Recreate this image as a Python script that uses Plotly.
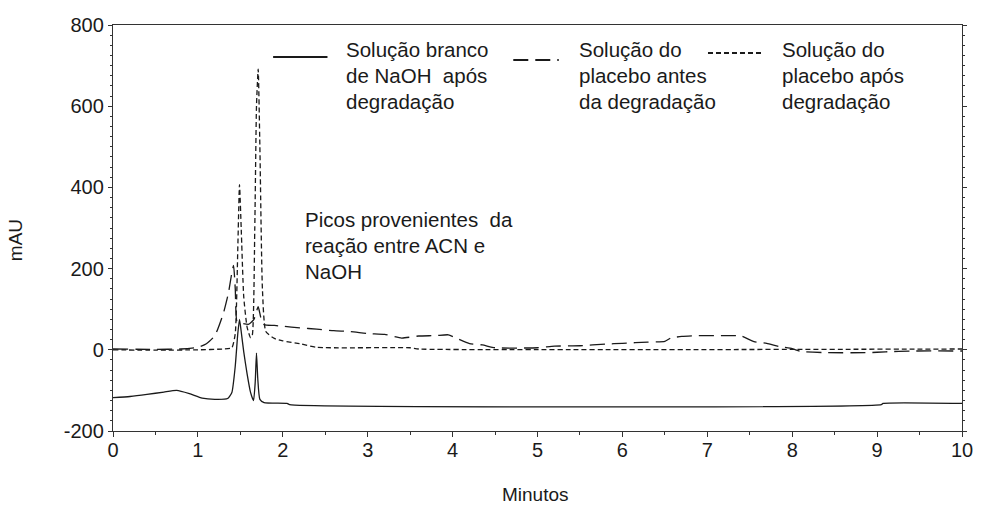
import plotly.graph_objects as go

# Chromatogram traces: retention time (min) and absorbance (mAU)
t_branco = [0, 0.2, 0.4, 0.6, 0.75, 0.9, 1.05, 1.2, 1.35, 1.40, 1.44, 1.47, 1.49, 1.51,
            1.54, 1.58, 1.62, 1.655, 1.675, 1.69, 1.705, 1.73, 1.78, 2.05, 2.08, 9.05, 9.07, 10]
mau_branco = [-118, -115, -110, -104, -100, -108, -119, -122, -120, -105, -40, 40, 75, 45,
              -5, -60, -105, -125, -80, -8, -70, -122, -130, -132, -135, -135, -132, -132]

t_antes = [0, 0.5, 0.8, 1.0, 1.1, 1.2, 1.3, 1.36, 1.40, 1.42, 1.44, 1.46, 1.50, 1.60, 1.66,
           1.71, 1.74, 1.78, 1.9, 2.0, 2.2, 2.4, 2.6, 2.8, 3.0, 3.2, 3.4, 3.6, 3.8, 3.95,
           4.05, 4.2, 4.35, 4.5, 5.0, 5.2, 5.5, 5.8, 6.0, 6.3, 6.5, 6.57, 6.7, 6.9, 7.2,
           7.4, 7.55, 7.7, 7.85, 8.0, 8.1, 8.4, 8.9, 9.1, 9.4, 10]
mau_antes = [2, 1, 2, 6, 15, 35, 90, 140, 190, 208, 150, 70, 66, 63, 75,
             106, 80, 62, 60, 58, 54, 51, 47, 45, 40, 38, 29, 34, 35, 37,
             28, 15, 12, 5, 5, 9, 10, 14, 16, 19, 21, 29, 33, 35, 35,
             34, 20, 16, 8, 3, -4, -7, -7, -5, -3, -3]

t_apos = [0, 0.5, 1.0, 1.3, 1.40, 1.44, 1.47, 1.49, 1.51, 1.54, 1.58, 1.62, 1.64, 1.67,
          1.69, 1.71, 1.73, 1.76, 1.80, 1.9, 2.0, 2.2, 2.4, 3.5, 3.6, 10]
mau_apos = [0, -1, 0, 2, 5, 40, 250, 407, 300, 130, 55, 30, 35, 300,
            600, 691, 500, 150, 45, 28, 22, 15, 6, 5, 2, 2]

legend_labels = [
    ["Solução branco", "de NaOH  após", "degradação"],
    ["Solução do", "placebo antes", "da degradação"],
    ["Solução do", "placebo após", "degradação"],
]
note_lines = ["Picos provenientes  da", "reação entre ACN e", "NaOH"]

y_ticks = [-200, 0, 200, 400, 600, 800]
x_ticks = list(range(0, 11))

FONT = "Liberation Sans Narrow, Arial Narrow, Liberation Sans, Arial, sans-serif"
INK = "#1a1a1a"
AXIS = "#333"

# figure geometry (pixels)
W, H = 985, 506
ML, MR, MT, MB = 113, 13, 25, 75
PW, PH = W - ML - MR, H - MT - MB


def px(x):
    return (x - ML) / PW


def py(y):
    return (H - MB - y) / PH


dashes = ["solid", "15px,7px", "5px,3px"]
series = [(t_branco, mau_branco), (t_antes, mau_antes), (t_apos, mau_apos)]

fig = go.Figure()
for (t, v), dash, lab in zip(series, dashes, legend_labels):
    fig.add_trace(go.Scatter(
        x=t, y=v, mode="lines", name=" ".join(lab), showlegend=False,
        line=dict(color=INK, width=1.3, dash=dash, shape="spline", smoothing=0.5),
        hoverinfo="skip",
    ))

# hand-built legend: sample line + three text rows per entry
legend_pos = [(275, 330, 57, 347), (518, 564, 60, 582), (715, 770, 53, 788)]
row_y = [50, 75.5, 101]
for (x0, x1, ly, tx), dash, lab in zip(legend_pos, dashes, legend_labels):
    fig.add_shape(type="line", xref="paper", yref="paper",
                  x0=px(x0), x1=px(x1), y0=py(ly), y1=py(ly),
                  line=dict(color=INK, width=2, dash=dash))
    for row, text in zip(row_y, lab):
        fig.add_annotation(xref="paper", yref="paper", x=px(tx), y=py(row),
                           xanchor="left", yanchor="middle", text=text, showarrow=False,
                           font=dict(family=FONT, size=20.5, color=INK))

for row, text in zip([219, 245, 271], note_lines):
    fig.add_annotation(xref="paper", yref="paper", x=px(305), y=py(row),
                       xanchor="left", yanchor="middle", text=text, showarrow=False,
                       font=dict(family=FONT, size=20.5, color=INK))

fig.add_annotation(xref="paper", yref="paper", x=px(15), y=py(240), text="mAU",
                   textangle=-90, showarrow=False, xanchor="center", yanchor="middle",
                   font=dict(family=FONT, size=19, color=INK))
fig.add_annotation(xref="paper", yref="paper", x=px(540), y=py(494), text="Minutos",
                   showarrow=False, xanchor="center", yanchor="middle",
                   font=dict(family=FONT, size=19, color=INK))

fig.update_layout(
    width=W, height=H,
    margin=dict(l=ML, r=MR, t=MT, b=MB),
    paper_bgcolor="white", plot_bgcolor="white",
    font=dict(family=FONT, size=20, color=INK),
    xaxis=dict(range=[0, 10], tickvals=x_ticks, ticktext=[str(v) for v in x_ticks],
               showgrid=False, zeroline=False, showline=True, linecolor=AXIS,
               linewidth=1.3, mirror=True, ticks="outside", ticklen=5, tickcolor=AXIS,
               ticklabelstandoff=-4,
               minor=dict(dtick=0.5, ticklen=3, ticks="outside", tickcolor=AXIS),
               tickfont=dict(family=FONT, size=20, color=INK)),
    yaxis=dict(range=[-200, 800], tickvals=y_ticks, ticktext=[str(v) for v in y_ticks],
               showgrid=False, zeroline=False, showline=True, linecolor=AXIS,
               linewidth=1.3, mirror="allticks", ticks="outside", ticklen=4, tickcolor=AXIS,
               minor=dict(dtick=25, ticklen=2, ticks="outside", tickcolor=AXIS),
               tickfont=dict(family=FONT, size=20, color=INK)),
)

fig.write_html("out.html")
